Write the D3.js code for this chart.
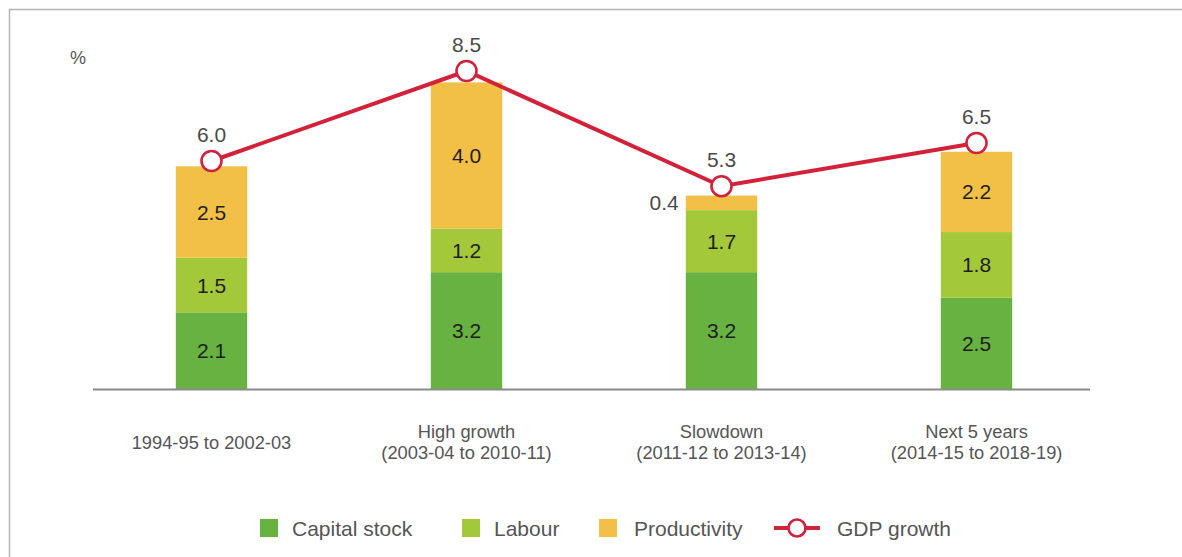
<!DOCTYPE html>
<html>
<head>
<meta charset="utf-8">
<script src="https://cdn.jsdelivr.net/npm/d3@7"></script>
<style>
  html, body { margin: 0; padding: 0; background: #fff; }
  svg { display: block; font-family: "Liberation Sans", Arial, Helvetica, sans-serif; }
</style>
</head>
<body>
<svg id="chart" width="1182" height="557"></svg>
<script>
// Sources of GDP growth by period (percentage points)
const periods = [
  ["1994-95 to 2002-03"],
  ["High growth", "(2003-04 to 2010-11)"],
  ["Slowdown", "(2011-12 to 2013-14)"],
  ["Next 5 years", "(2014-15 to 2018-19)"]
];
const capitalStock = [2.1, 3.2, 3.2, 2.5];
const labour = [1.5, 1.2, 1.7, 1.8];
const productivity = [2.5, 4.0, 0.4, 2.2];
const gdpGrowth = [6.0, 8.5, 5.3, 6.5];

const seriesNames = ["Capital stock", "Labour", "Productivity"];
const seriesColors = ["#67b240", "#a3c83a", "#f2c046"];
const lineColor = "#d4213a";

const svg = d3.select("#chart");

// frame (top and left edges)
svg.append("path")
  .attr("d", "M9.5,557 V9.5 H1182")
  .attr("fill", "none")
  .attr("stroke", "#b4b4b4")
  .attr("stroke-width", 1.5);

const rows = periods.map((p, i) => ({
  key: i,
  "Capital stock": capitalStock[i],
  "Labour": labour[i],
  "Productivity": productivity[i]
}));

const x = d3.scaleBand()
  .domain(d3.range(periods.length))
  .range([84, 1104])
  .paddingInner(0.72)
  .paddingOuter(0.36);

const baseY = 389;
const yBar = d3.scaleLinear().domain([0, 10]).range([baseY, baseY - 365]);
// GDP growth sits on its own (secondary) scale
const yLine = d3.scaleLinear().domain([0, 10]).range([377, 17]);

const stacked = d3.stack().keys(seriesNames)(rows);

// stacked bars
const layers = svg.append("g").selectAll("g")
  .data(stacked)
  .join("g")
  .attr("fill", (d, i) => seriesColors[i]);

layers.selectAll("rect")
  .data(d => d)
  .join("rect")
  .attr("x", d => x(d.data.key))
  .attr("width", x.bandwidth())
  .attr("y", d => yBar(d[1]))
  .attr("height", d => yBar(d[0]) - yBar(d[1]));

// segment value labels
stacked.forEach(layer => {
  layer.forEach(d => {
    const v = d.data[layer.key];
    const h = yBar(d[0]) - yBar(d[1]);
    const cy = (yBar(d[0]) + yBar(d[1])) / 2;
    const inside = h >= 24;
    svg.append("text")
      .attr("x", inside ? x(d.data.key) + x.bandwidth() / 2 : x(d.data.key) - 7)
      .attr("y", cy)
      .attr("dy", "0.36em")
      .attr("text-anchor", inside ? "middle" : "end")
      .attr("font-size", 21)
      .attr("fill", inside ? "#1e1e1e" : "#4a4a4a")
      .text(d3.format(".1f")(v));
  });
});

// baseline
svg.append("line")
  .attr("x1", 93).attr("x2", 1090)
  .attr("y1", baseY + 0.5).attr("y2", baseY + 0.5)
  .attr("stroke", "#8a8a8a")
  .attr("stroke-width", 2);

// category axis
const xAxis = d3.axisBottom(x).tickSize(0).tickFormat(() => "");
const axisG = svg.append("g")
  .attr("transform", `translate(0,${baseY})`)
  .call(xAxis);
axisG.select(".domain").remove();
axisG.selectAll(".tick text").remove();
axisG.selectAll(".tick").each(function(d) {
  const lines = periods[d];
  const t = d3.select(this).append("text")
    .attr("text-anchor", "middle")
    .attr("font-size", 18.3)
    .attr("fill", "#555");
  const startY = lines.length === 1 ? 53 : 42;
  lines.forEach((ln, j) => {
    t.append("tspan")
      .attr("x", 0)
      .attr("y", startY + j * 21)
      .attr("dy", "0.36em")
      .text(ln);
  });
});

// GDP growth line
const cx = i => x(i) + x.bandwidth() / 2;
svg.append("path")
  .datum(gdpGrowth)
  .attr("fill", "none")
  .attr("stroke", lineColor)
  .attr("stroke-width", 4)
  .attr("d", d3.line().x((d, i) => cx(i)).y(d => yLine(d)));

svg.append("g").selectAll("circle")
  .data(gdpGrowth)
  .join("circle")
  .attr("cx", (d, i) => cx(i))
  .attr("cy", d => yLine(d))
  .attr("r", 10)
  .attr("fill", "#fff")
  .attr("stroke", lineColor)
  .attr("stroke-width", 2.6);

svg.append("g").selectAll("text")
  .data(gdpGrowth)
  .join("text")
  .attr("x", (d, i) => cx(i))
  .attr("y", d => yLine(d) - 27)
  .attr("dy", "0.36em")
  .attr("text-anchor", "middle")
  .attr("font-size", 21)
  .attr("fill", "#4a4a4a")
  .text(d => d3.format(".1f")(d));

// unit label
svg.append("text")
  .attr("x", 78).attr("y", 58)
  .attr("dy", "0.36em")
  .attr("text-anchor", "middle")
  .attr("font-size", 18)
  .attr("fill", "#555")
  .text("%");

// legend
const legendY = 528;
const legendItems = [
  { name: "Capital stock", color: seriesColors[0], sx: 260, tx: 292 },
  { name: "Labour", color: seriesColors[1], sx: 462, tx: 494 },
  { name: "Productivity", color: seriesColors[2], sx: 599, tx: 634 }
];
const legend = svg.append("g");
legendItems.forEach(it => {
  legend.append("rect")
    .attr("x", it.sx).attr("y", legendY - 9)
    .attr("width", 18).attr("height", 18)
    .attr("fill", it.color);
  legend.append("text")
    .attr("x", it.tx).attr("y", legendY)
    .attr("dy", "0.36em")
    .attr("font-size", 21)
    .attr("fill", "#555")
    .text(it.name);
});
legend.append("line")
  .attr("x1", 774).attr("x2", 820)
  .attr("y1", legendY).attr("y2", legendY)
  .attr("stroke", lineColor)
  .attr("stroke-width", 4);
legend.append("circle")
  .attr("cx", 797).attr("cy", legendY)
  .attr("r", 8.5)
  .attr("fill", "#fff")
  .attr("stroke", lineColor)
  .attr("stroke-width", 2.6);
legend.append("text")
  .attr("x", 837).attr("y", legendY)
  .attr("dy", "0.36em")
  .attr("font-size", 21)
  .attr("fill", "#555")
  .text("GDP growth");
</script>
</body>
</html>
